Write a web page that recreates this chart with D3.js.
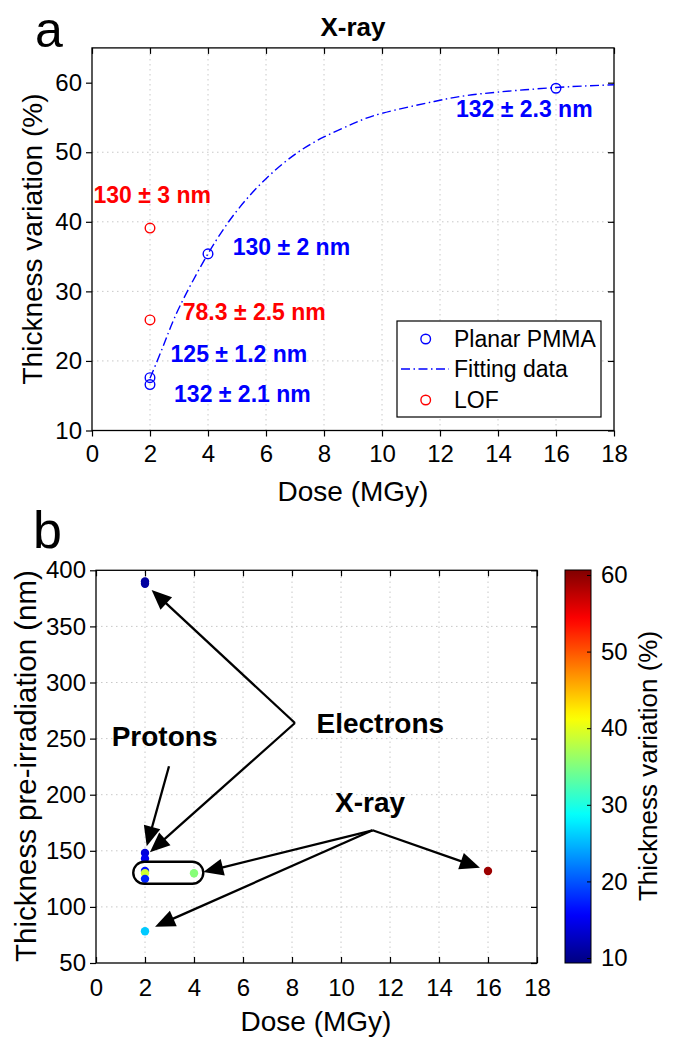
<!DOCTYPE html>
<html><head><meta charset="utf-8">
<script src="https://cdn.jsdelivr.net/npm/d3@7"></script>
<style>
body{margin:0;background:#fff;}
svg{display:block;font-family:"Liberation Sans",Arial,sans-serif;}
</style></head>
<body>
<svg id="fig" width="674" height="1038"></svg>
<script>
// ---------- Panel a data ----------
const pmmaDose = [2, 2, 4, 16];
const pmmaVar = [16.6, 17.6, 35.4, 59.2];
const lofDose = [2, 2];
const lofVar = [39.1, 25.9];
const fitDose = [2, 2.5, 3, 4, 5, 6, 7, 8, 9, 10, 11.8, 13.4, 16, 18];
const fitVar = [17.5, 22.6, 27.6, 35.4, 41.6, 46.2, 49.7, 52.2, 54.1, 55.6, 57.3, 58.4, 59.3, 59.7];
const annotA = [
  {t: "130 ± 3 nm", x: 0.05, y: 42.7, c: "#ff0000"},
  {t: "130 ± 2 nm", x: 4.85, y: 35.3, c: "#0000ff"},
  {t: "78.3 ± 2.5 nm", x: 3.13, y: 25.9, c: "#ff0000"},
  {t: "125 ± 1.2 nm", x: 2.71, y: 19.8, c: "#0000ff"},
  {t: "132 ± 2.1 nm", x: 2.83, y: 14.1, c: "#0000ff"},
  {t: "132 ± 2.3 nm", x: 12.55, y: 55.0, c: "#0000ff"}
];
const xTicksA = [0, 2, 4, 6, 8, 10, 12, 14, 16, 18];
const yTicksA = [10, 20, 30, 40, 50, 60];

// ---------- Panel b data ----------
const doseB = [2, 2, 2, 2, 2, 2, 2, 4, 2, 16];
const thickB = [390, 388, 148, 143, 132, 130, 125, 130, 78.3, 132];
const varB = [11, 11, 14, 15, 16.5, 39, 17.5, 35.4, 25.9, 59.2];
const xTicksB = [0, 2, 4, 6, 8, 10, 12, 14, 16, 18];
const yTicksB = [50, 100, 150, 200, 250, 300, 350, 400];
const cbTicks = [10, 20, 30, 40, 50, 60];
const cbDomain = [9.35, 60.65];
const groupLabels = [
  {t: "Electrons", x: 9.0, y: 255.3},
  {t: "Protons", x: 0.64, y: 243.7},
  {t: "X-ray", x: 9.76, y: 184.7}
];
const arrowsB = [
  {from: [8.12, 263.9], to: [2.27, 382.5]},
  {from: [8.12, 263.9], to: [2.2, 148.8]},
  {from: [2.98, 225.3], to: [2.07, 154]},
  {from: [11.29, 168.3], to: [15.67, 134.9]},
  {from: [11.29, 168.3], to: [4.38, 131]},
  {from: [11.29, 168.3], to: [2.41, 82.4]}
];
const boxB = {x0: 1.52, x1: 4.38, y0: 140.2, y1: 120.6};

// ---------- helpers ----------
const svg = d3.select("#fig");
const FONT = "Liberation Sans, Arial, sans-serif";
function jet(t){
  t = Math.max(0, Math.min(1, t));
  const cl = v => Math.max(0, Math.min(1, v));
  const r = cl(Math.min(4*t - 1.5, -4*t + 4.5));
  const g = cl(Math.min(4*t - 0.5, -4*t + 3.5));
  const b = cl(Math.min(4*t + 0.5, -4*t + 2.5));
  return d3.rgb(r*255, g*255, b*255).formatHex();
}

function frame(g, x, y, xt, yt, bottomOut){
  const [x0, x1] = x.range(), [y0, y1] = y.range();
  g.append("g").selectAll("line.gx").data(xt.slice(1, -1)).join("line")
    .attr("x1", d => x(d)).attr("x2", d => x(d)).attr("y1", y0).attr("y2", y1)
    .attr("stroke", "#c8c8c8").attr("stroke-width", 1).attr("stroke-dasharray", "1.5,3.5");
  g.append("g").selectAll("line.gy").data(yt.slice(1, -1)).join("line")
    .attr("y1", d => y(d)).attr("y2", d => y(d)).attr("x1", x0).attr("x2", x1)
    .attr("stroke", "#c8c8c8").attr("stroke-width", 1).attr("stroke-dasharray", "1.5,3.5");
  const ax = (sel) => sel.call(s => s.select(".domain").remove())
    .call(s => s.selectAll("line").attr("stroke", "#000").attr("stroke-width", 1.2));
  g.append("g").attr("transform", `translate(0,${y0})`)
    .call(d3.axisBottom(x).tickValues(xt).tickSize(bottomOut ? 6 : -6).tickPadding(bottomOut ? 8 : 16).tickFormat(d3.format("d")))
    .call(ax).call(s => s.selectAll("text").attr("font-size", 24).attr("font-family", FONT).attr("fill", "#000"));
  g.append("g").attr("transform", `translate(${x0},0)`)
    .call(d3.axisLeft(y).tickValues(yt).tickSize(6).tickPadding(4).tickFormat(d3.format("d")))
    .call(ax).call(s => s.selectAll("text").attr("font-size", 24).attr("font-family", FONT).attr("fill", "#000"));
  g.append("g").attr("transform", `translate(0,${y1})`)
    .call(d3.axisTop(x).tickValues(xt).tickSize(-6).tickFormat(""))
    .call(ax);
  g.append("g").attr("transform", `translate(${x1},0)`)
    .call(d3.axisRight(y).tickValues(yt).tickSize(-6).tickFormat(""))
    .call(ax);
  g.append("rect").attr("x", x0).attr("y", y1).attr("width", x1 - x0).attr("height", y0 - y1)
    .attr("fill", "none").attr("stroke", "#000").attr("stroke-width", 1.3);
}

// ---------- Panel a ----------
const gA = svg.append("g");
const xA = d3.scaleLinear().domain([0, 18]).range([92, 614]);
const yA = d3.scaleLinear().domain([10, 65]).range([430.5, 47.9]);
frame(gA, xA, yA, xTicksA, yTicksA, true);

gA.append("path")
  .datum(fitDose.map((d, i) => [d, fitVar[i]]))
  .attr("d", d3.line().x(d => xA(d[0])).y(d => yA(d[1])).curve(d3.curveNatural))
  .attr("fill", "none").attr("stroke", "#0000ff").attr("stroke-width", 1.4)
  .attr("stroke-dasharray", "9,3.5,1.5,3.5");

gA.selectAll("circle.pm").data(pmmaDose.map((d, i) => [d, pmmaVar[i]])).join("circle")
  .attr("cx", d => xA(d[0])).attr("cy", d => yA(d[1])).attr("r", 4.8)
  .attr("fill", "none").attr("stroke", "#0000ff").attr("stroke-width", 1.4);
gA.selectAll("circle.lof").data(lofDose.map((d, i) => [d, lofVar[i]])).join("circle")
  .attr("cx", d => xA(d[0])).attr("cy", d => yA(d[1])).attr("r", 4.8)
  .attr("fill", "none").attr("stroke", "#ff0000").attr("stroke-width", 1.4);

gA.selectAll("text.ann").data(annotA).join("text")
  .attr("x", d => xA(d.x)).attr("y", d => yA(d.y))
  .attr("font-size", 23).attr("font-weight", "bold").attr("font-family", FONT)
  .attr("fill", d => d.c).text(d => d.t);

// legend
const lg = gA.append("g");
lg.append("rect").attr("x", 397).attr("y", 321).attr("width", 204).attr("height", 96)
  .attr("fill", "#fff").attr("stroke", "#000").attr("stroke-width", 1.2);
lg.append("circle").attr("cx", 425.7).attr("cy", 339).attr("r", 4.8).attr("fill", "none").attr("stroke", "#0000ff").attr("stroke-width", 1.4);
lg.append("line").attr("x1", 401).attr("x2", 449).attr("y1", 369).attr("y2", 369)
  .attr("stroke", "#0000ff").attr("stroke-width", 1.4).attr("stroke-dasharray", "9,3.5,1.5,3.5");
lg.append("circle").attr("cx", 425.7).attr("cy", 400).attr("r", 4.8).attr("fill", "none").attr("stroke", "#ff0000").attr("stroke-width", 1.4);
[["Planar PMMA", 339], ["Fitting data", 369], ["LOF", 400]].forEach(([t, yy]) => {
  lg.append("text").attr("x", 454).attr("y", yy + 8).attr("font-size", 23).attr("font-family", FONT).text(t);
});

gA.append("text").attr("x", 353).attr("y", 36).attr("text-anchor", "middle")
  .attr("font-size", 26).attr("font-weight", "bold").attr("font-family", FONT).text("X-ray");
gA.append("text").attr("x", 353).attr("y", 501).attr("text-anchor", "middle")
  .attr("font-size", 28).attr("font-family", FONT).text("Dose (MGy)");
gA.append("text").attr("transform", "translate(42,239) rotate(-90)").attr("text-anchor", "middle")
  .attr("font-size", 28).attr("font-family", FONT).text("Thickness variation (%)");
svg.append("text").attr("x", 35).attr("y", 47).attr("font-size", 50).attr("font-family", FONT).text("a");

// ---------- Panel b ----------
const gB = svg.append("g");
const xB = d3.scaleLinear().domain([0, 18]).range([96, 537]);
const yB = d3.scaleLinear().domain([50, 400]).range([963, 570.3]);
frame(gB, xB, yB, xTicksB, yTicksB, false);

gB.selectAll("circle.pt").data(doseB.map((d, i) => ({x: d, y: thickB[i], v: varB[i]}))).join("circle")
  .attr("cx", d => xB(d.x)).attr("cy", d => yB(d.y)).attr("r", 4.2)
  .attr("fill", d => jet((d.v - cbDomain[0]) / (cbDomain[1] - cbDomain[0])));

gB.append("rect")
  .attr("x", xB(boxB.x0)).attr("y", yB(boxB.y0))
  .attr("width", xB(boxB.x1) - xB(boxB.x0)).attr("height", yB(boxB.y1) - yB(boxB.y0))
  .attr("rx", 11).attr("ry", 11).attr("fill", "none").attr("stroke", "#000").attr("stroke-width", 2.4);

arrowsB.forEach(a => {
  const x1 = xB(a.from[0]), y1 = yB(a.from[1]), x2 = xB(a.to[0]), y2 = yB(a.to[1]);
  const dx = x2 - x1, dy = y2 - y1, L = Math.hypot(dx, dy), ux = dx / L, uy = dy / L;
  const hl = 20, hw = 8.5;
  const bx = x2 - ux * hl, by = y2 - uy * hl;
  gB.append("line").attr("x1", x1).attr("y1", y1).attr("x2", bx + ux * 2).attr("y2", by + uy * 2)
    .attr("stroke", "#000").attr("stroke-width", 2.3);
  gB.append("path")
    .attr("d", `M${x2},${y2}L${bx - uy * hw},${by + ux * hw}L${bx + uy * hw},${by - ux * hw}Z`)
    .attr("fill", "#000");
});

gB.selectAll("text.grp").data(groupLabels).join("text")
  .attr("x", d => xB(d.x)).attr("y", d => yB(d.y))
  .attr("font-size", 28).attr("font-weight", "bold").attr("font-family", FONT).text(d => d.t);

gB.append("text").attr("x", 316).attr("y", 1031).attr("text-anchor", "middle")
  .attr("font-size", 28).attr("font-family", FONT).text("Dose (MGy)");
gB.append("text").attr("transform", "translate(36,766) rotate(-90)").attr("text-anchor", "middle")
  .attr("font-size", 29.5).attr("font-family", FONT).text("Thickness pre-irradiation (nm)");
svg.append("text").attr("x", 33).attr("y", 548).attr("font-size", 52).attr("font-family", FONT).text("b");

// colorbar
const cbY = d3.scaleLinear().domain(cbDomain).range([963, 570]);
const defs = svg.append("defs");
const grad = defs.append("linearGradient").attr("id", "jetgrad").attr("x1", 0).attr("y1", 1).attr("x2", 0).attr("y2", 0);
d3.range(0, 1.0001, 0.02).forEach(t => grad.append("stop").attr("offset", t).attr("stop-color", jet(t)));
const cb = svg.append("g");
cb.append("rect").attr("x", 565).attr("y", 570).attr("width", 26).attr("height", 393)
  .attr("fill", "url(#jetgrad)").attr("stroke", "#000").attr("stroke-width", 1);
cb.append("g").attr("transform", "translate(591,0)")
  .call(d3.axisRight(cbY).tickValues(cbTicks).tickSize(-4).tickPadding(10).tickFormat(d3.format("d")))
  .call(s => s.select(".domain").remove())
  .call(s => s.selectAll("line").attr("stroke", "#000"))
  .call(s => s.selectAll("text").attr("font-size", 24).attr("font-family", FONT).attr("fill", "#000"));
cb.append("text").attr("transform", "translate(657,766) rotate(-90)").attr("text-anchor", "middle")
  .attr("font-size", 26).attr("font-family", FONT).text("Thickness variation (%)");
</script>
</body></html>
